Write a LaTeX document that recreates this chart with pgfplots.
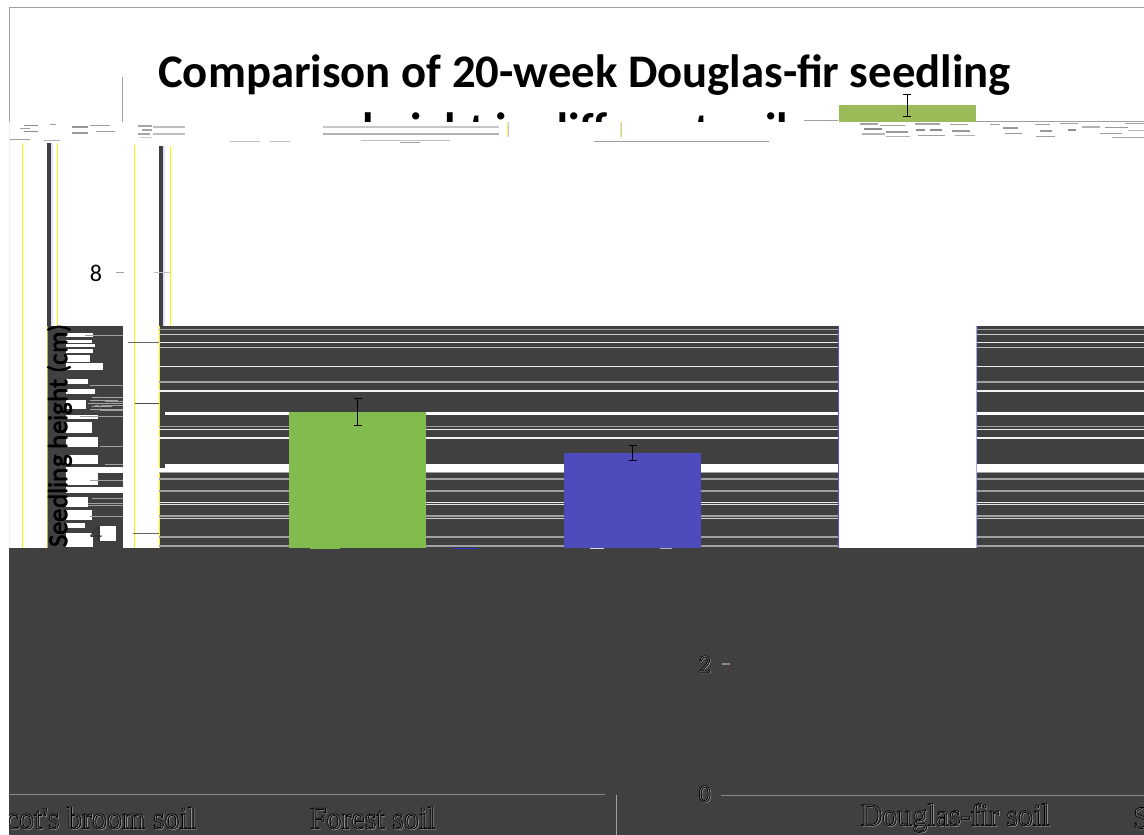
\documentclass[border=0pt]{standalone}
\usepackage{pgfplots}
\pgfplotsset{compat=1.18}
\usepackage{fontspec}
\setmainfont{Carlito}
\newfontfamily\serifl{Liberation Serif}
\definecolor{dk}{HTML}{404040}
\definecolor{gr}{HTML}{A0A0A0}
\definecolor{barG}{HTML}{82BC4F}
\definecolor{barB}{HTML}{4E4CBD}
\definecolor{barT}{HTML}{9BBB59}
\definecolor{edge}{HTML}{5050F0}
\newcommand{\hollow}[1]{\special{pdf:code 1 Tr 0.7 w}#1\special{pdf:code 0 Tr}}
\newcommand{\outl}[4][\serifl\fontsize{30}{32}\selectfont]{%
  \node[text=gr,anchor=center,inner sep=0pt,yscale=1.05] at (#2+0.7,#3+0.6) {#1 \hollow{#4}};
  \node[text=black,anchor=center,inner sep=0pt,yscale=1.05] at (#2,#3) {#1 \hollow{#4}};
}
\begin{document}
\begin{tikzpicture}
\path[use as bounding box] (0,0) rectangle (1144pt,835pt);
\begin{scope}[x=1pt,y=-1pt,yshift=835pt]
  % frame
  \draw[gr,line width=1.2pt] (9.5,122)--(9.5,7.5)--(1144,7.5);
  \draw[gr,line width=0.8pt] (122.5,77)--(122.5,122);
  % vertical artefacts
  \draw[black!6,line width=1pt] (9.5,122)--(9.5,548);
  \draw[yellow,line width=1pt] (22.5,143)--(22.5,548);
  \draw[yellow,line width=1pt] (134.5,145)--(134.5,548);
  \draw[yellow,line width=1pt] (57.5,143)--(57.5,326);
  \draw[yellow,line width=1pt] (170,146)--(170,326);
  \fill[dk] (47,143) rectangle (51,326);
  \fill[dk] (159,146) rectangle (163,326);
  \fill[blue!12] (51,143) rectangle (53,326);
  \fill[blue!12] (163,146) rectangle (165,326);
  % dark bands
  \fill[dk] (47,326) rectangle (123,548);
  \fill[dk] (159,326) rectangle (1144,548);
  \draw[yellow!70!black,line width=.8pt] (47.4,326)--(47.4,548);
  \draw[yellow,line width=.7pt] (159,326)--(159,548);
  % full-width light lines of the right band
  \foreach \y/\c/\w in {329.5/gr/1,335/black!20/1,342.5/black!8/1,347.5/black!25/1,367/black!8/1,
    382/gr/1.2,391/black!5/1.2,427/gr/1,430/black!8/1,438/black!5/1.2,473/gr/1,
    479/gr/1.2,491/gr/1.2,503/black!8/1,505/black!10/1,516/gr/1.4,518.5/black!20/1.4,537/gr/1.2,546/gr/1.2}{
    \draw[\c,line width=\w pt] (159,\y)--(1144,\y);
  }
  \fill[white] (165,412) rectangle (1144,415.5);
  \fill[white] (165,464) rectangle (1144,472);
  \fill[white] (159,468.5) rectangle (165,472);
  % left column stripes
  \foreach \ya/\yb/\xe in {333/337/93,340/343/92,344/347/95,349/353/93,355/362/90,363/370/103,
    379/384/88,389/394/95,400/409/86,415/419/98,422/433/92,437/447/98,455/464/98,
    473/485/98,497/507/88,510/520/92,523/528/85,533/547/93}{
    \fill[white] (66,\ya) rectangle (\xe,\yb);
  }
  \fill[white] (66,467) rectangle (123,473);
  \fill[white] (66,487) rectangle (123,493);
  \fill[white] (100,526) rectangle (116,541);
  \foreach \y/\xa in {335/85,385/90,401/105,405/95,410/100,416/80,446/100,464/105,480/90,
    498/92,503/88,505/88,516/90}{
    \draw[gr,line width=.9pt] (\xa,\y)--(123,\y);
  }
  % ticks
  \draw[gr,line width=1pt] (116,272.5)--(124,272.5);
  \draw[black!25,line width=.6pt] (154,272.5)--(170,272.5);
  \draw[black!60,line width=1pt] (128,343)--(159,343);
  \draw[black!70,line width=1pt] (135,403.5)--(159,403.5);
  \draw[black!60,line width=1pt] (133,534)--(159,534);
\end{scope}

\begin{axis}[at={(0,0)},anchor=south west,scale only axis,width=1144pt,height=835pt,
  hide axis,clip=false,
  xmin=0,xmax=1144,ymin=-0.6116,ymax=12.156,
  ybar,bar width=137pt,bar shift=0pt]
  \addplot[fill=barG,draw=none,error bars/.cd,y dir=both,y explicit,error mark=|,
    error bar style={draw=black,line width=.6pt},error mark options={draw=black,mark size=4pt,line width=.6pt}]
    coordinates {(357.5,5.86) +- (0,0.21)};
  \addplot[fill=barB,draw=none,error bars/.cd,y dir=both,y explicit,error mark=|,
    error bar style={draw=black,line width=.6pt},error mark options={draw=black,mark size=4pt,line width=.6pt}]
    coordinates {(632.5,5.23) +- (0,0.11)};
  \addplot[fill=barT,draw=none,error bars/.cd,y dir=both,y explicit,error mark=|,
    error bar style={draw=black,line width=.6pt},error mark options={draw=black,mark size=4pt,line width=.6pt}]
    coordinates {(907,10.55) +- (0,0.17)};
\end{axis}

\begin{scope}[x=1pt,y=-1pt,yshift=835pt]
  % column of the third bar, washed out
  \fill[white] (838,122) rectangle (975.5,548);
  \draw[edge,line width=.7pt] (838.3,326)--(838.3,548);
  \draw[edge!50,line width=.5pt] (976,326)--(976,548);
  % y axis title and tick numbers
  \begin{scope}
    \clip (40,320) rectangle (123,548);
    \foreach \d in {-0.45,0,0.45}{
      \node[rotate=90,anchor=center,inner sep=0pt] at (59.5+\d,436)
        {\fontsize{27}{30}\selectfont Seedling height (cm)};
    }
  \end{scope}
  \node[anchor=center,inner sep=0pt] at (96,273) {\fontsize{24}{26}\selectfont 8};
  \node[anchor=center,inner sep=0pt,text=black!70] at (96,404) {\fontsize{24}{26}\selectfont 6};
  \node[anchor=center,inner sep=0pt,text=black!80] at (96,534) {\fontsize{24}{26}\selectfont 4};
  \foreach \y/\xa/\xb in {397/92/123,400/90/118,403/88/123,406/92/112,409/90/123}{
    \draw[black!35,line width=.7pt] (\xa,\y)--(\xb,\y);
  }
  % bottom block
  \fill[dk] (9,548) rectangle (1144,835);
  \foreach \a/\b/\c in {310/340/barG,452/478/blue!60!gray,590/604/black!15,660/672/black!30}{
    \draw[\c,line width=1pt] (\a,548.5)--(\b,548.5);
  }
  \draw[gr!85!black,line width=1pt] (9,795)--(605,795);
  \draw[gr,line width=1.2pt] (616.5,795)--(616.5,835);
  \draw[gr!85!black,line width=.9pt] (721,795)--(1144,795);
  \draw[gr!85!black,line width=1.2pt] (722,664)--(730,664);
  \fill[red!80!black] (728,666) rectangle (729,667);
  \fill[red!80!black] (728,669) rectangle (729,670);
  \outl[\fontsize{24}{26}\selectfont]{702}{664}{2}
  \outl[\fontsize{24}{26}\selectfont]{702}{794}{0}
  \begin{scope}
    \clip (9,548) rectangle (1144,835);
    \outl{89}{818}{Scot's broom soil}
    \outl{369}{818}{Forest soil}
    \outl{951.5}{818}{Douglas-fir soil}
    \node[text=gr,anchor=west,inner sep=0pt,yscale=1.05] at (1133.6,818.5) {\serifl\fontsize{30}{32}\selectfont\hollow{S}};
    \node[text=black,anchor=west,inner sep=0pt,yscale=1.05] at (1133,818) {\serifl\fontsize{30}{32}\selectfont\hollow{S}};
  \end{scope}
  % title
  \node[anchor=center,inner sep=0pt] at (584.5,75)
    {\fontsize{46.7}{50}\bfseries\selectfont Comparison of 20-week Douglas-fir seedling};
  \begin{scope}
    \clip (300,90) rectangle (830,122);
    \node[anchor=base,inner sep=0pt] at (584.5,146)
      {\fontsize{46.7}{50}\bfseries\selectfont height in different soils};
  \end{scope}
  % shredded strip under the title
  \foreach \a/\b/\y/\c/\w in {
    153/185/127/black!25/1.6,153/185/134/black!25/1.6,323/499/127/black!22/1.6,323/499/134/black!30/1.6,
    804/838/121/gr/1,975/1144/121.5/gr/.9,
    594/769/141/gr/.8,361/450/140/black!25/.7,400/420/142/gr/.8,
    230/260/141/black!25/.7,270/290/141/black!25/.7,
    20/30/129/gr/1,24/38/126/black!45/1,24/38/132/black!45/1,50/56/125/gr/1,
    72/88/127/black!40/1.4,72/88/133/black!40/1.4,
    90/110/126/gr/1,96/115/132/gr/1,
    138/152/126/black!35/1.6,142/152/130/black!35/1.6,
    138/150/134/black!35/1.6,140/152/138/black!20/1,
    10/30/140/gr/1,44/60/141/black!30/1,
    860/878/124/gr/1.2,864/882/129/black!45/1.2,862/885/134/black!30/1.2,
    880/905/126/gr/1,886/908/132/black!40/1.2,886/910/137/black!30/1,
    915/940/124/black!35/1.2,916/925/130/black!45/1.4,930/942/130/black!45/1.4,918/945/136/gr/1,
    950/968/125/gr/1,952/970/131/black!40/1.2,955/975/136/black!30/1,
    990/1000/125/gr/1,1003/1018/128/black!40/1.2,1005/1022/134/black!40/1,
    1035/1050/125/gr/1,1040/1052/131/black!40/1.2,1036/1055/137/gr/1,
    1060/1078/124/gr/1,1068/1076/130/black!45/1.2,1082/1100/127/black!30/1.2,1100/1122/134/gr/1,
    1105/1128/128/black!40/1,1125/1144/124/gr/1,1128/1144/131/black!30/1,1112/1144/138/black!35/1}{
    \draw[\c,line width=\w pt] (\a,\y)--(\b,\y);
  }
  \draw[yellow!70,line width=.7pt] (507.5,122)--(507.5,137);
  \draw[blue!25,line width=.5pt] (508.5,122)--(508.5,137);
  \draw[yellow!70,line width=.7pt] (620.5,122)--(620.5,137);
  \draw[blue!25,line width=.5pt] (621.5,122)--(621.5,137);
\end{scope}
\end{tikzpicture}
\end{document}
